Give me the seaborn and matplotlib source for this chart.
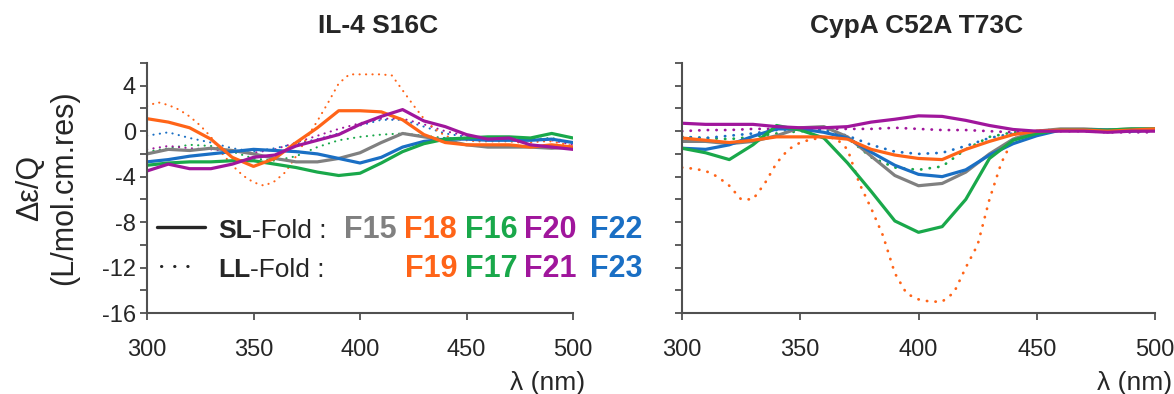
import numpy as np
import pandas as pd
import matplotlib
matplotlib.use("Agg")
import matplotlib.pyplot as plt
from matplotlib.lines import Line2D
from matplotlib.ticker import MultipleLocator, FixedLocator
import seaborn as sns

# ---------------- data ----------------
wl = [300, 310, 320, 330, 340, 350, 360, 370, 380, 390, 400,
      410, 420, 430, 440, 450, 460, 470, 480, 490, 500]
wl5 = list(range(300, 505, 5))

# IL-4 S16C  (SL-Fold: solid)
il4_F15 = [-2.0, -1.6, -1.7, -1.5, -1.7, -2.0, -2.4, -2.7, -2.7, -2.4, -1.9,
           -1.0, -0.2, -0.5, -0.8, -1.2, -1.4, -1.4, -1.4, -1.5, -1.4]
il4_F18 = [1.1, 0.8, 0.3, -0.7, -2.3, -3.1, -2.4, -1.0, 0.3, 1.8, 1.8,
           1.7, 1.0, -0.3, -1.0, -1.2, -1.2, -1.2, -1.4, -1.2, -1.4]
il4_F16 = [-3.0, -2.8, -2.7, -2.7, -2.6, -2.6, -2.9, -3.2, -3.6, -3.9, -3.7,
           -2.8, -1.8, -1.1, -0.7, -0.6, -0.5, -0.5, -0.6, -0.2, -0.6]
il4_F20 = [-3.5, -2.9, -3.3, -3.3, -2.9, -2.3, -2.1, -1.3, -0.8, -0.3, 0.6,
           1.3, 1.9, 0.9, 0.4, -0.3, -0.7, -0.6, -1.2, -1.4, -1.6]
il4_F22 = [-2.7, -2.5, -2.2, -2.0, -1.8, -1.6, -1.7, -1.8, -2.0, -2.4, -2.8,
           -2.3, -1.4, -0.9, -0.7, -0.7, -0.8, -0.8, -0.8, -0.7, -1.0]
# IL-4 S16C  (LL-Fold: dotted)
il4_F19 = [2.2, 2.55, 2.3, 1.9, 1.3, 0.5, -0.5, -1.9, -3.0, -3.9, -4.5,
           -4.8, -4.4, -3.6, -2.2, -0.6, 0.9, 2.5, 4.2, 5.0, 5.0,
           5.0, 5.0, 4.9, 3.6, 2.3, 1.1, 0.2, -0.4, -0.7, -0.8,
           -0.9, -0.9, -0.9, -0.9, -1.0, -1.0, -0.9, -0.9, -1.1, -1.3]
il4_F17 = [-1.8, -1.5, -1.2, -1.3, -1.8, -2.4, -2.6, -2.2, -1.4, -0.8, -0.5,
           -0.3, -0.2, -0.4, -0.6, -0.7, -0.7, -0.7, -0.7, -0.6, -1.0]
il4_F21 = [-1.6, -1.3, -1.5, -1.6, -1.8, -1.9, -1.6, -1.0, -0.4, 0.2, 0.7,
           1.1, 1.1, 0.6, 0.0, -0.4, -0.6, -0.6, -0.7, -0.8, -1.2]
il4_F23 = [-0.4, -0.1, -0.6, -1.0, -1.5, -1.8, -1.5, -1.1, -0.7, -0.2, 0.5,
           1.0, 1.0, 0.4, -0.2, -0.5, -0.7, -0.7, -0.8, -0.7, -1.0]

# CypA C52A T73C  (SL-Fold: solid)
cypa_F15 = [-0.9, -0.9, -1.1, -0.9, -0.4, 0.3, 0.4, -0.5, -2.2, -3.9, -4.8,
            -4.6, -3.6, -2.0, -0.7, 0.0, 0.2, 0.2, 0.1, 0.2, 0.2]
cypa_F18 = [-0.6, -0.8, -1.0, -0.8, -0.5, -0.5, -0.5, -0.7, -1.6, -2.1, -2.4,
            -2.5, -1.6, -0.9, -0.3, 0.0, 0.1, 0.1, 0.0, 0.1, 0.2]
cypa_F16 = [-1.5, -1.9, -2.5, -1.2, 0.5, 0.1, -0.6, -2.8, -5.3, -7.9, -8.9,
            -8.4, -6.0, -2.4, -0.8, -0.2, 0.1, 0.1, 0.1, 0.2, 0.2]
cypa_F20 = [0.7, 0.6, 0.6, 0.6, 0.4, 0.3, 0.3, 0.4, 0.8, 1.05, 1.35,
            1.3, 0.95, 0.5, 0.15, 0.0, 0.0, 0.0, -0.1, 0.0, 0.0]
cypa_F22 = [-1.5, -1.6, -1.2, -0.45, 0.2, 0.2, -0.1, -0.6, -1.85, -3.0, -3.8,
            -4.0, -3.4, -2.1, -1.1, -0.4, 0.1, 0.1, 0.1, 0.0, 0.1]
# CypA C52A T73C  (LL-Fold: dotted)
cypa_F19 = [-3.2, -3.3, -3.5, -4.0, -4.8, -6.0, -6.0, -4.6, -2.8, -1.6, -1.0,
            -0.7, -0.6, -0.6, -1.6, -4.6, -6.8, -9.2, -12.5, -14.3, -14.8,
            -15.0, -15.0, -14.2, -12.0, -10.0, -6.0, -2.8, -0.7, -0.2, 0.0,
            0.1, 0.1, 0.1, 0.1, 0.2, 0.1, 0.1, 0.2, 0.1, 0.1]
cypa_F17 = [-0.5, -0.6, -0.7, -0.5, -0.2, 0.0, 0.0, -0.6, -2.3, -3.2, -3.4,
            -3.1, -1.6, -0.5, -0.1, 0.0, 0.1, 0.1, 0.1, 0.1, 0.1]
cypa_F21 = [0.0, 0.1, 0.1, 0.2, 0.2, 0.2, 0.2, 0.2, 0.2, 0.3, 0.2,
            0.1, 0.1, 0.0, -0.1, 0.0, 0.0, 0.0, -0.1, -0.1, -0.1]
cypa_F23 = [-0.5, -0.6, -0.4, -0.2, 0.1, 0.2, 0.1, -0.4, -1.2, -1.8, -2.0,
            -1.9, -1.3, -0.6, -0.2, 0.0, 0.1, 0.1, 0.0, 0.0, 0.0]

titles = ["IL-4 S16C", "CypA C52A T73C"]
xticks = [300, 350, 400, 450, 500]
yticks = [-16, -12, -8, -4, 0, 4]

GRAY, ORANGE, GREEN, MAGENTA, BLUE = "#808080", "#ff6418", "#19a84a", "#a0169c", "#1a6fc4"

# ---------------- style ----------------
sns.set_theme(style="ticks")
plt.rcParams["font.family"] = ["Liberation Sans", "DejaVu Sans"]
plt.rcParams["axes.unicode_minus"] = False
TXT = "#262626"
SP = "#505050"

W, H = 1174, 394
fig = plt.figure(figsize=(W / 100, H / 100), dpi=100)


def fx(px):
    return px / W


def fy(py):
    return 1 - py / H


ax1 = fig.add_axes([fx(147), fy(313), fx(573) - fx(147), fy(63) - fy(313)])
ax2 = fig.add_axes([fx(682), fy(313), fx(1155) - fx(682), fy(63) - fy(313)])

panels = [
    (ax1, 1.5,
     [(wl, il4_F17, GREEN), (wl, il4_F21, MAGENTA), (wl, il4_F23, BLUE), (wl5, il4_F19, ORANGE)],
     [(il4_F15, GRAY), (il4_F22, BLUE), (il4_F16, GREEN), (il4_F18, ORANGE), (il4_F20, MAGENTA)]),
    (ax2, 2.0,
     [(wl, cypa_F17, GREEN), (wl, cypa_F21, MAGENTA), (wl, cypa_F23, BLUE), (wl5, cypa_F19, ORANGE)],
     [(cypa_F15, GRAY), (cypa_F22, BLUE), (cypa_F16, GREEN), (cypa_F18, ORANGE), (cypa_F20, MAGENTA)]),
]

for ax, dlw, dotted, solid in panels:
    for x, y, c in dotted:
        sns.lineplot(x=x, y=y, ax=ax, color=c, linewidth=dlw,
                     linestyle=(0, (0.1, 3)), dash_capstyle="round")
    for y, c in solid:
        sns.lineplot(x=wl, y=y, ax=ax, color=c, linewidth=2.3)

for i, ax in enumerate([ax1, ax2]):
    ax.set_xlim(300, 500)
    ax.set_ylim(-16, 6)
    sns.despine(ax=ax)
    for s in ["left", "bottom"]:
        ax.spines[s].set_color(SP)
        ax.spines[s].set_linewidth(1.5)
    ax.xaxis.set_major_locator(FixedLocator(xticks))
    ax.yaxis.set_major_locator(FixedLocator(yticks))
    ax.yaxis.set_minor_locator(MultipleLocator(2))
    ax.tick_params(axis="both", which="both", direction="out", length=5,
                   width=1.3, color=SP, labelcolor=TXT, labelsize=17)
    ax.tick_params(axis="x", pad=14)
    ax.tick_params(axis="y", pad=3)
    ax.set_xlabel("")
    ax.set_ylabel("")
    if i == 1:
        ax.tick_params(axis="y", labelleft=False)

# titles
fig.text(fx(378), fy(26), titles[0], ha="center", va="center",
         fontsize=19, fontweight="bold", color=TXT)
fig.text(fx(917), fy(26), titles[1], ha="center", va="center",
         fontsize=19, fontweight="bold", color=TXT)

# x labels
for xr in (585, 1172):
    fig.text(fx(xr), fy(383), "λ (nm)", ha="right", va="center",
             fontsize=19, color=TXT)

# y label
fig.text(fx(47), fy(188), "Δε/Q\n(L/mol.cm.res)", rotation=90, ha="center",
         va="center", multialignment="center", fontsize=22, color=TXT,
         linespacing=1.2)

# legend
fig.add_artist(Line2D([fx(157), fx(205)], [fy(227), fy(227)], color=TXT, lw=2.4))
fig.add_artist(Line2D([fx(161), fx(200)], [fy(266), fy(266)], color=TXT, lw=2.2,
                      linestyle=(0, (0.1, 4.2)), dash_capstyle="round"))

fig.canvas.draw()
renderer = fig.canvas.get_renderer()
for lead, base in (("SL", 238), ("LL", 277)):
    t = fig.text(fx(218), fy(base), lead, ha="left", va="baseline",
                 fontsize=19, fontweight="bold", color=TXT)
    bb = t.get_window_extent(renderer)
    fig.text(bb.x1 / W, fy(base), "-Fold :", ha="left", va="baseline",
             fontsize=19, color=TXT)

row1 = [("F15", GRAY, 397), ("F18", ORANGE, 457), ("F16", GREEN, 518),
        ("F20", MAGENTA, 577), ("F22", BLUE, 642)]
row2 = [("F19", ORANGE, 457), ("F17", GREEN, 518), ("F21", MAGENTA, 577),
        ("F23", BLUE, 642)]
for row, base in ((row1, 238), (row2, 277)):
    for lab, c, xr in row:
        fig.text(fx(xr), fy(base), lab, ha="right", va="baseline",
                 fontsize=22, fontweight="bold", color=c)

fig.savefig("out.png", dpi=100)
